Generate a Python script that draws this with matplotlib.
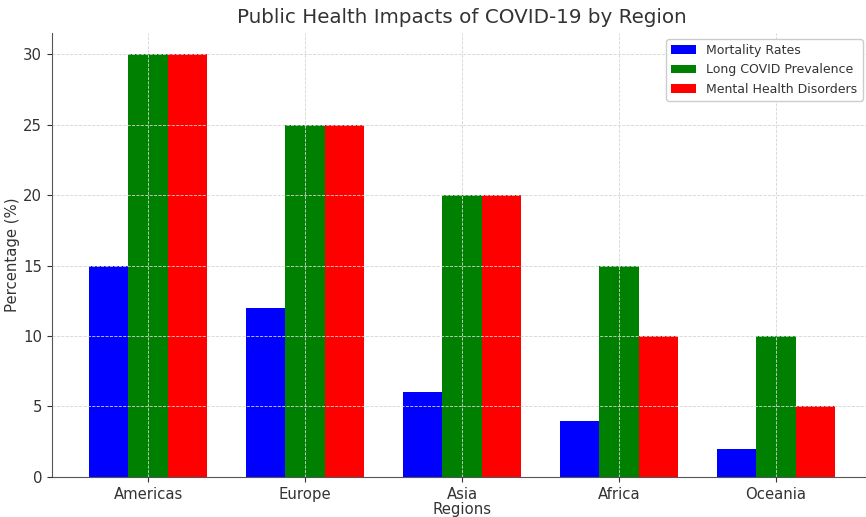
import matplotlib
matplotlib.use('Agg')
import matplotlib.pyplot as plt
import numpy as np

# Data
regions = ['Americas', 'Europe', 'Asia', 'Africa', 'Oceania']
mortality = [15, 12, 6, 4, 2]
long_covid = [30, 25, 20, 15, 10]
mental_health = [30, 25, 20, 10, 5]

text_color = '#333333'
plt.rcParams['text.color'] = text_color
plt.rcParams['axes.labelcolor'] = text_color
plt.rcParams['xtick.color'] = text_color
plt.rcParams['ytick.color'] = text_color

fig = plt.figure(figsize=(8.66, 5.17), dpi=100)
ax = fig.add_axes([0.060, 0.0774, 0.947, 0.859])

x = np.arange(len(regions))
w = 0.25
ax.bar(x - w, mortality, w, color='blue', label='Mortality Rates')
ax.bar(x, long_covid, w, color='green', label='Long COVID Prevalence')
ax.bar(x + w, mental_health, w, color='red', label='Mental Health Disorders')

ax.set_xticks(x)
ax.set_xticklabels(regions, fontsize=10.7)
ax.tick_params(axis='y', labelsize=10.7)
ax.set_xlabel('Regions', fontsize=10.7, labelpad=0)
ax.set_ylabel('Percentage (%)', fontsize=10.7, labelpad=2)
ax.set_title('Public Health Impacts of COVID-19 by Region', fontsize=14.3, pad=7)

ax.grid(True, linestyle='--', color='#d5d5d5', linewidth=0.6)
ax.set_axisbelow(False)
for s in ['top', 'right']:
    ax.spines[s].set_visible(False)
for s in ['left', 'bottom']:
    ax.spines[s].set_color('#555555')

ax.legend(loc='upper right', bbox_to_anchor=(0.996, 1.0), fontsize=9, framealpha=1, edgecolor='#cccccc')

fig.savefig('out.png', dpi=100)
